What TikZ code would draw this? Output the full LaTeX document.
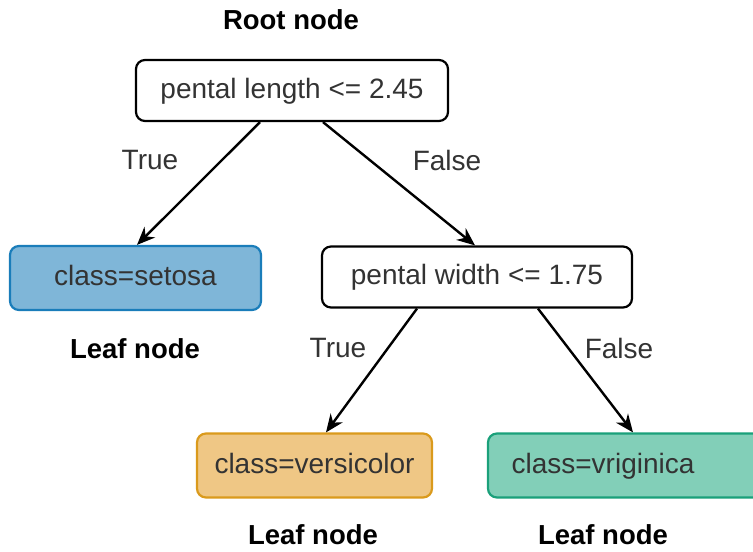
\documentclass[tikz,border=0pt]{standalone}
\usepackage{fontspec}
\setmainfont{Liberation Sans}
\usetikzlibrary{arrows.meta}
\definecolor{txt}{HTML}{333333}
\definecolor{bluefill}{HTML}{7FB6D8}
\definecolor{blueline}{HTML}{1A7DBA}
\definecolor{orangefill}{HTML}{EFC785}
\definecolor{orangeline}{HTML}{DA9A1C}
\definecolor{greenfill}{HTML}{82CFB8}
\definecolor{greenline}{HTML}{1AA07A}
\begin{document}
\begin{tikzpicture}[x=1pt,y=-1pt,
  box/.style={draw, line width=2.2pt, rounded corners=9pt, inner sep=0pt,
    text height=20.5pt, text depth=5.5pt,
    font=\fontsize{28}{32}\selectfont, text=txt},
  nodetag/.style={font=\fontsize{27.5}{32}\selectfont\bfseries, text=black},
  edgelbl/.style={font=\fontsize{28}{32}\selectfont, text=txt},
  link/.style={line width=2.4pt, -{Stealth[length=18pt,width=15pt]}}]
\useasboundingbox (0,0) rectangle (753,552);
% decision nodes
\node[box, minimum width=312pt, minimum height=61pt, fill=white] (root) at (292,90.5) {pental length <= 2.45};
\node[box, minimum width=310pt, minimum height=61pt, fill=white] (split) at (477,277) {pental width <= 1.75};
% leaves
\node[box, draw=blueline, fill=bluefill, minimum width=251pt, minimum height=64pt] (setosa) at (135.5,278) {class=setosa};
\node[box, draw=orangeline, fill=orangefill, minimum width=235pt, minimum height=64pt] (versi) at (314.5,465.5) {class=versicolor};
\node[box, draw=greenline, fill=greenfill, minimum width=276pt, minimum height=64pt] (virg) at (626,465.5) {class=vriginica\rule{46pt}{0pt}};
% captions
\node[nodetag] (rootcap) at (291,20) {Root node};
\node[nodetag] (leafa) at (135,349) {Leaf node};
\node[nodetag] (leafb) at (313,535) {Leaf node};
\node[nodetag] (leafc) at (603,535) {Leaf node};
% connectors
\draw[link] (root.south -| 260,0) -- (setosa.north -| 137,0);
\draw[link] (root.south -| 323,0) -- (split.north -| 475,0);
\draw[link] (split.south -| 417,0) -- (versi.north -| 326,0);
\draw[link] (split.south -| 538,0) -- (virg.north -| 633,0);
% branch labels
\node[edgelbl] (t1) at (150,160) {True};
\node[edgelbl] (f1) at (447,160) {False};
\node[edgelbl] (t2) at (338,348) {True};
\node[edgelbl] (f2) at (619,348) {False};
\end{tikzpicture}
\end{document}
